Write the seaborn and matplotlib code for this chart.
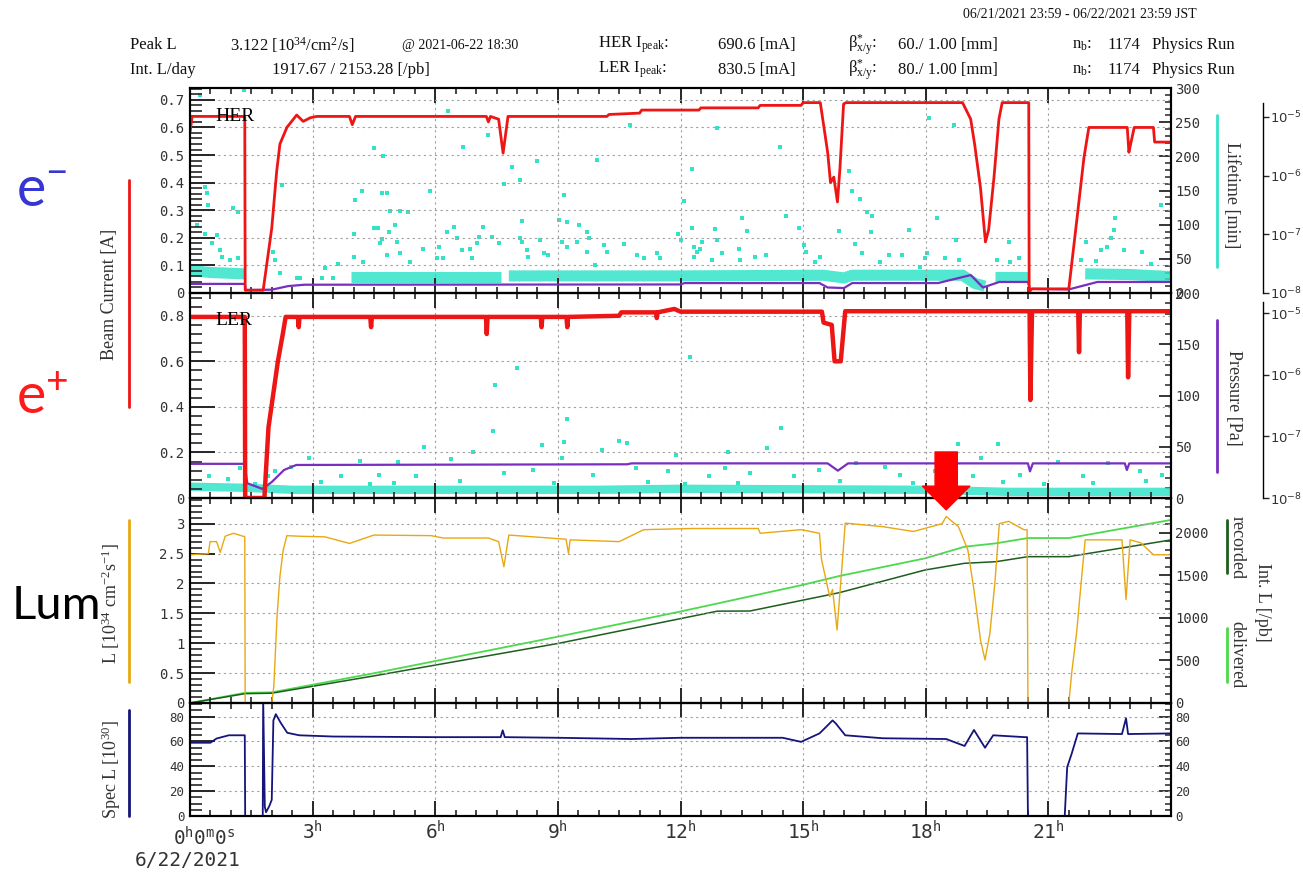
import matplotlib
matplotlib.use("Agg")

import matplotlib.pyplot as plt
from matplotlib.lines import Line2D
from matplotlib.ticker import MultipleLocator, FixedLocator, NullLocator, FuncFormatter
import numpy as np
import pandas as pd
import seaborn as sns

# ---------------------------------------------------------------------------
# data, hours since 6/22/2021 0:00 JST
# ---------------------------------------------------------------------------
HER_T = [0.0, 0.05, 1.34, 1.35, 1.79, 2.0, 2.12, 2.2, 2.37, 2.61, 2.77, 2.94, 3.1, 3.9, 3.97,
         4.05, 7.25, 7.3, 7.35, 7.55, 7.66, 7.78, 10.2, 10.25, 11.0, 11.05, 12.45, 12.5, 13.9,
         13.95, 14.95, 15.0, 15.42, 15.6, 15.67, 15.75, 15.84, 15.9, 15.99, 16.05, 18.9, 19.1,
         19.2, 19.34, 19.46, 19.54, 19.67, 19.79, 19.87, 20.52, 20.53, 20.6, 21.5, 21.7, 21.87,
         21.99, 22.93, 22.97, 23.02, 23.1, 23.57, 23.6, 24.0]
HER_I = [0.58, 0.64, 0.64, 0.01, 0.01, 0.235, 0.44, 0.54, 0.60, 0.645, 0.622, 0.635, 0.64, 0.64, 0.61,
         0.64, 0.64, 0.62, 0.64, 0.63, 0.507, 0.64, 0.64, 0.647, 0.652, 0.663, 0.663, 0.671, 0.671,
         0.68, 0.68, 0.69, 0.69, 0.51, 0.40, 0.42, 0.33, 0.45, 0.685, 0.69, 0.69, 0.63,
         0.535, 0.38, 0.185, 0.23, 0.42, 0.63, 0.69, 0.69, 0.005, 0.015, 0.015, 0.27, 0.49,
         0.60, 0.60, 0.51, 0.545, 0.60, 0.60, 0.547, 0.547]

HER_P_T = [0, 1.34, 1.36, 2.0, 2.4, 2.8, 12.0, 12.1, 15.4, 15.6, 16.0, 16.2, 18.3, 19.1, 19.4,
           19.8, 20.5, 20.55, 21.5, 22.2, 24]
HER_P = [0.033, 0.033, 0.011, 0.012, 0.025, 0.030, 0.031, 0.036, 0.036, 0.020, 0.018, 0.036, 0.036,
         0.065, 0.020, 0.040, 0.040, 0.015, 0.013, 0.040, 0.040]

# dense lifetime band [min], one segment id per point
HER_BAND_T = [0, 0.5, 1.34, 3.95, 7.6, 7.8, 12.0, 15.5, 16.0, 16.2, 18.9, 19.2, 19.45, 19.7, 20.5,
              21.9, 23.0, 24.0]
HER_BAND = [33, 30, 28, 24, 24, 25, 25, 26, 22, 26, 26, 14, 10, 24, 24, 28, 27, 24]
HER_BAND_SEG = [0, 0, 0, 1, 1, 2, 2, 2, 2, 2, 2, 2, 2, 3, 3, 4, 4, 4]

# scattered lifetime readings (hour, min)
HER_LT_PTS = [
    (0.24, 290), (1.31, 297), (0.37, 155), (0.41, 146), (0.45, 129), (1.06, 124), (1.18, 119),
    (0.16, 100), (0.37, 87), (0.65, 85), (0.53, 73), (0.73, 63), (0.78, 53), (0.98, 48), (1.18, 51),
    (2.24, 158), (2.04, 60), (2.08, 48), (2.20, 29), (2.61, 22), (2.69, 22), (3.22, 22), (3.30, 37),
    (3.51, 22), (3.63, 43), (4.00, 87), (4.04, 136), (4.20, 149), (4.00, 53), (4.24, 46), (4.49, 212),
    (4.73, 201), (4.69, 146), (4.81, 146), (4.90, 120), (5.14, 120), (5.34, 118), (4.49, 95),
    (4.61, 95), (4.69, 79), (4.65, 73), (4.86, 90), (5.02, 100), (5.06, 74), (5.14, 58), (4.81, 55),
    (5.39, 46), (5.71, 65), (5.88, 149), (6.08, 68), (6.04, 51), (6.20, 51), (6.28, 90), (6.45, 97),
    (6.53, 80), (6.32, 266), (6.69, 213), (6.65, 63), (6.85, 65), (6.90, 51), (7.02, 73), (7.06, 82),
    (7.18, 97), (7.30, 231), (7.38, 82), (7.55, 73), (7.67, 159), (7.87, 185), (8.08, 165),
    (8.12, 105), (8.08, 80), (8.12, 75), (8.24, 63), (8.28, 53), (8.49, 193), (8.57, 78), (8.65, 58),
    (8.77, 56), (9.02, 107), (9.10, 75), (9.14, 144), (9.22, 104), (9.22, 68), (9.51, 100),
    (9.47, 75), (9.71, 90), (9.75, 80), (9.71, 60), (9.91, 41), (9.96, 194), (10.12, 70),
    (10.20, 60), (10.61, 71), (10.77, 246), (10.93, 56), (11.10, 51), (11.42, 58), (11.51, 51),
    (11.95, 87), (12.00, 78), (12.08, 134), (12.28, 181), (12.89, 241), (12.28, 95), (12.32, 68),
    (12.40, 60), (12.48, 65), (12.53, 75), (12.32, 53), (12.77, 48), (12.85, 94), (12.89, 78),
    (13.02, 58), (13.42, 65), (13.51, 110), (13.63, 91), (13.46, 48), (13.83, 53), (14.08, 56),
    (14.44, 213), (14.57, 113), (14.89, 95), (15.02, 70), (15.06, 60), (15.30, 46), (15.42, 53),
    (15.87, 91), (16.12, 178), (16.20, 149), (16.28, 71), (16.40, 138), (16.44, 58), (16.56, 119),
    (16.69, 112), (16.65, 90), (16.89, 46), (17.10, 56), (17.42, 56), (17.58, 92), (17.87, 38),
    (17.99, 51), (18.07, 256), (18.03, 58), (18.28, 110), (18.48, 51), (18.68, 246), (18.73, 78),
    (18.81, 48), (19.75, 48), (20.03, 75), (20.07, 46), (20.28, 51), (21.79, 48), (21.91, 74),
    (22.16, 47), (22.28, 63), (22.44, 68), (22.52, 80), (22.61, 92), (22.64, 110), (22.85, 63),
    (23.30, 60), (23.50, 43), (23.75, 129), (23.99, 66),
]

LER_T = [0, 1.34, 1.35, 1.82, 1.92, 2.0, 2.15, 2.28, 2.34, 2.64, 2.66, 2.68, 4.41, 4.43, 4.45,
         7.24, 7.26, 7.28, 8.58, 8.6, 8.62, 9.21, 9.23, 9.25, 10.5, 10.55, 11.4, 11.42, 11.44,
         11.85, 12.0, 15.46, 15.5, 15.7, 15.77, 15.92, 16.03, 20.54, 20.56, 20.6, 21.73, 21.75,
         21.77, 22.93, 22.95, 22.98, 24]
LER_I = [0.795, 0.795, 0.0, 0.0, 0.31, 0.41, 0.60, 0.73, 0.795, 0.795, 0.75, 0.795, 0.795, 0.75,
         0.795, 0.795, 0.72, 0.795, 0.795, 0.75, 0.795, 0.795, 0.75, 0.795, 0.80, 0.815, 0.815,
         0.79, 0.815, 0.83, 0.818, 0.818, 0.77, 0.76, 0.60, 0.60, 0.82, 0.82, 0.43, 0.82, 0.82,
         0.64, 0.82, 0.82, 0.53, 0.82, 0.82]

LER_P_T = [0, 1.34, 1.4, 1.77, 2.0, 2.3, 2.6, 10.7, 10.8, 15.6, 15.85, 16.1, 20.5, 20.55, 20.62,
           22.87, 22.92, 22.98, 24]
LER_P = [0.15, 0.15, 0.065, 0.04, 0.07, 0.123, 0.145, 0.148, 0.152, 0.152, 0.12, 0.152, 0.152,
         0.117, 0.152, 0.152, 0.123, 0.152, 0.152]

LER_BAND_T = [0, 1.34, 2.5, 10.0, 12.0, 18.0, 20.0, 24.0]
LER_BAND = [11, 10, 8, 8, 9, 8, 6, 6]

LER_LT_PTS = [
    (12.23, 138), (8.0, 127), (7.46, 110), (7.42, 65), (9.23, 77), (14.46, 68), (5.72, 50),
    (8.62, 52), (9.15, 55), (10.49, 56), (10.69, 54), (10.08, 47), (6.92, 45), (14.12, 49),
    (18.8, 53), (19.77, 53), (19.35, 39), (9.1, 39), (11.88, 42), (13.15, 45), (4.15, 36),
    (5.08, 35), (6.38, 38), (2.92, 39), (10.92, 29), (13.08, 29), (16.3, 34), (17.0, 30),
    (21.23, 35), (22.46, 34), (23.23, 26), (1.23, 29), (2.08, 26), (1.92, 21), (2.46, 30),
    (3.69, 21), (4.62, 22), (5.54, 21), (7.69, 24), (8.38, 27), (9.85, 22), (11.69, 26),
    (12.69, 21), (13.69, 24), (14.77, 21), (15.38, 27), (17.38, 22), (18.23, 26), (19.15, 21),
    (20.31, 22), (21.85, 21), (23.77, 22), (0.92, 19), (0.46, 21), (3.2, 16), (5.0, 15),
    (6.6, 17), (8.9, 15), (11.2, 16), (13.4, 15), (15.9, 17), (17.7, 15), (19.9, 16), (22.1, 15),
    (23.4, 17), (1.6, 14), (4.4, 14), (12.1, 14), (20.9, 14),
]

LUM_T = [0, 0.45, 0.49, 0.65, 0.74, 0.86, 1.06, 1.3, 1.34, 1.35, 2.0, 2.05, 2.13, 2.2, 2.28, 2.37,
         2.69, 3.3, 3.9, 4.5, 5.9, 6.2, 7.3, 7.55, 7.68, 7.8, 9.2, 9.26, 9.3, 10.5, 11.1, 12.3,
         13.9, 13.95, 14.95, 15.4, 15.45, 15.65, 15.72, 15.83, 15.95, 16.03, 16.95, 17.7, 18.4,
         18.5, 18.8, 19.03, 19.18, 19.34, 19.45, 19.57, 19.69, 19.8, 20.03, 20.4, 20.48, 20.5,
         21.5, 21.57, 21.69, 21.8, 21.9, 22.8, 22.9, 23.0, 23.26, 23.57, 24.0]
LUM = [2.48, 2.5, 2.70, 2.70, 2.52, 2.79, 2.84, 2.79, 2.78, 0.0, 0.0, 0.27, 1.45, 2.12, 2.56, 2.8,
       2.79, 2.78, 2.67, 2.81, 2.80, 2.76, 2.76, 2.70, 2.28, 2.81, 2.74, 2.5, 2.73, 2.70, 2.90, 2.92,
       2.92, 2.84, 2.90, 2.84, 2.4, 1.78, 1.9, 1.22, 2.28, 3.01, 2.95, 2.87, 3.0,
       3.12, 2.95, 2.56, 1.89, 1.05, 0.72, 1.17, 2.0, 3.0, 3.04, 2.9, 2.9, 0.0,
       0.0, 0.5, 1.17, 2.0, 2.73, 2.73, 1.73, 2.73, 2.68, 2.48, 2.48]

DELIV_T = [0, 1.35, 2.0, 4.49, 9.0, 11.98, 14.98, 15.88, 17.98, 18.95, 19.72, 20.5, 21.5, 24.0]
DELIV = [0, 120, 125, 349, 780, 1074, 1388, 1493, 1701, 1838, 1878, 1940, 1940, 2153]
RECOR_T = [0, 1.35, 2.0, 4.49, 9.0, 12.9, 13.7, 15.88, 17.98, 18.95, 19.72, 20.5, 21.5, 24.0]
RECOR = [0, 110, 115, 318, 700, 1080, 1082, 1297, 1564, 1643, 1662, 1721, 1721, 1918]

SPEC_T = [0, 0.5, 0.65, 0.95, 1.34, 1.35, 1.78, 1.79, 1.83, 1.86, 1.94, 2.0, 2.04, 2.1, 2.22,
          2.38, 2.67, 3.5, 6.0, 7.6, 7.65, 7.7, 9.0, 10.8, 12.0, 14.5, 14.95, 15.4, 15.57, 15.72,
          15.8, 16.03, 16.95, 18.5, 18.95, 19.18, 19.45, 19.65, 20.42, 20.48, 20.5, 21.4, 21.46,
          21.57, 21.72, 22.8, 22.9, 22.95, 24]
SPEC = [59, 59, 62.4, 65, 65, 0, 0, 95, 7.5, 3, 8, 13, 77, 82, 75,
        67, 65, 64, 63.5, 63.5, 69, 63.5, 63, 62, 63, 63, 59.7, 66.5, 72, 77,
        74.5, 65, 62.6, 62, 56.4, 69.3, 55, 65, 63.5, 63.5, 0, 0, 39.3,
        50.2, 66.5, 66, 78.7, 66, 66.5]

PEAK_T, PEAK_L = 18.5, 3.122
XTICKS = [0, 3, 6, 9, 12, 15, 18, 21, 24]
LOG_TICKS = [1e-8, 1e-7, 1e-6, 1e-5]

RED = "#ee1515"
PURPLE = "#7a2ec0"
CYAN = "#33e3c8"
GOLD = "#e8a812"
LGREEN = "#4cd94c"
DGREEN = "#1d5e1d"
NAVY = "#14147a"
TXT = "#333333"

W, H = 1303, 874
X0, X1 = 190, 1171

sns.set_theme(style="white", rc={
    "axes.edgecolor": "black",
    "axes.linewidth": 1.5,
    "xtick.direction": "in",
    "ytick.direction": "in",
    "mathtext.default": "regular",
})
plt.rcParams["font.family"] = ["DejaVu Sans Mono", "DejaVu Sans"]


def px(x, y):
    return x / W, 1 - y / H


def box(top, bottom):
    return [X0 / W, 1 - bottom / H, (X1 - X0) / W, (bottom - top) / H]


def line(ax, t, v, color, lw):
    sns.lineplot(x=t, y=v, ax=ax, color=color, linewidth=lw, estimator=None, sort=False)


def band(ax, t, v, seg, lw):
    df = pd.DataFrame({"t": t, "v": v, "seg": seg})
    sns.lineplot(data=df, x="t", y="v", units="seg", estimator=None, sort=False, ax=ax,
                 color=CYAN, linewidth=lw, alpha=0.85, solid_capstyle="butt")


def dots(ax, pts, size):
    df = pd.DataFrame(pts, columns=["t", "v"])
    sns.scatterplot(data=df, x="t", y="v", ax=ax, color=CYAN, marker="s", s=size, linewidth=0)


def num(v, _):
    return "0" if abs(v) < 1e-9 else f"{v:g}"


def style_left(ax, top, major, minor, lsize=10):
    ax.set_xlim(0, 24)
    ax.set_ylim(0, top)
    ax.xaxis.set_major_locator(FixedLocator(XTICKS))
    ax.xaxis.set_minor_locator(MultipleLocator(0.5))
    ax.yaxis.set_major_locator(MultipleLocator(major))
    ax.yaxis.set_minor_locator(MultipleLocator(minor))
    ax.yaxis.set_major_formatter(FuncFormatter(num))
    ax.tick_params(axis="x", which="both", top=True, bottom=True, labelbottom=False)
    ax.tick_params(axis="x", which="major", length=11, width=1.4)
    ax.tick_params(axis="x", which="minor", length=4.5, width=1.2)
    ax.tick_params(axis="y", which="both", left=True, right=False)
    ax.tick_params(axis="y", which="major", length=18, width=1.4, pad=4,
                   labelsize=lsize, labelcolor=TXT)
    ax.tick_params(axis="y", which="minor", length=8.5, width=1.2)
    ax.grid(True, which="major", color="#a0a0a0", linestyle=(0, (2, 3)), linewidth=0.8)
    ax.set_xlabel("")
    ax.set_ylabel("")
    ax.patch.set_visible(False)


def style_right(ax, top, major, minor, lsize=10):
    ax.set_ylim(0, top)
    ax.yaxis.set_major_locator(MultipleLocator(major))
    ax.yaxis.set_minor_locator(MultipleLocator(minor))
    ax.yaxis.set_major_formatter(FuncFormatter(num))
    ax.tick_params(axis="y", which="major", length=9, width=1.3, pad=3,
                   labelsize=lsize, labelcolor=TXT)
    ax.tick_params(axis="y", which="minor", length=4.5, width=1.1)
    ax.set_xlabel("")
    ax.set_ylabel("")


def log_scale(y_top, y_e5, y_e8):
    dec = (y_e8 - y_e5) / 3
    ax = fig.add_axes([1262 / W, 1 - y_e8 / H, 0.0005, (y_e8 - y_top) / H])
    ax.set_yscale("log")
    ax.set_ylim(1e-8, 10 ** (-5 + (y_e5 - y_top) / dec))
    for s in ("left", "top", "bottom"):
        ax.spines[s].set_visible(False)
    ax.spines["right"].set_linewidth(1.0)
    ax.patch.set_visible(False)
    ax.set_xticks([])
    ax.yaxis.tick_right()
    ax.yaxis.set_major_locator(FixedLocator(LOG_TICKS))
    ax.yaxis.set_minor_locator(NullLocator())
    ax.yaxis.set_major_formatter(
        FuncFormatter(lambda v, _: f"10$^{{{int(round(np.log10(v)))}}}$"))
    ax.tick_params(axis="y", direction="out", length=4, width=1, pad=1, labelsize=9.5,
                   labelcolor=TXT, labelfontfamily="DejaVu Sans")


def mark(x, y0, y1, color):
    fig.add_artist(Line2D([x / W, x / W], [1 - y0 / H, 1 - y1 / H], color=color, lw=2))


fig = plt.figure(figsize=(W / 100, H / 100), dpi=100)
fig.patch.set_facecolor("white")

ax_her = fig.add_axes(box(88, 293))
ax_ler = fig.add_axes(box(293, 498))
ax_lum = fig.add_axes(box(498, 703))
ax_spec = fig.add_axes(box(703, 816))

# HER panel
her_r = ax_her.twinx()
band(her_r, HER_BAND_T, HER_BAND, HER_BAND_SEG, 8)
dots(her_r, HER_LT_PTS, 10)
line(ax_her, HER_P_T, HER_P, PURPLE, 1.6)
line(ax_her, HER_T, HER_I, RED, 2.0)
style_left(ax_her, 0.743, 0.1, 0.02)
style_right(her_r, 300, 50, 10)

# LER panel
ler_r = ax_ler.twinx()
band(ler_r, LER_BAND_T, LER_BAND, [0] * len(LER_BAND), 6)
dots(ler_r, LER_LT_PTS, 5)
line(ax_ler, LER_P_T, LER_P, PURPLE, 1.6)
line(ax_ler, LER_T, LER_I, RED, 3.2)
style_left(ax_ler, 0.9, 0.2, 0.04)
style_right(ler_r, 200, 50, 10)

# luminosity panel
lum_r = ax_lum.twinx()
line(lum_r, DELIV_T, DELIV, LGREEN, 1.3)
line(lum_r, RECOR_T, RECOR, DGREEN, 1.1)
line(ax_lum, LUM_T, LUM, GOLD, 1.0)
style_left(ax_lum, 3.43, 0.5, 0.1)
style_right(lum_r, 2411, 500, 100)

# specific luminosity panel
spec_r = ax_spec.twinx()
line(ax_spec, SPEC_T, SPEC, NAVY, 1.3)
style_left(ax_spec, 91, 20, 5, lsize=9)
style_right(spec_r, 91, 20, 5, lsize=9)
ax_spec.tick_params(axis="x", labelbottom=True, labelsize=14, pad=3, labelcolor=TXT)
ax_spec.set_xticklabels(["" if h in (0, 24) else f"{h}$^h$" for h in XTICKS])

for a, r in ((ax_her, her_r), (ax_ler, ler_r), (ax_lum, lum_r), (ax_spec, spec_r)):
    a.set_zorder(r.get_zorder() + 1)

fig.text(*px(204, 838), "0$^h$0$^m$0$^s$", ha="center", va="center", fontsize=14, color=TXT)
fig.text(*px(188, 860), "6/22/2021", ha="center", va="center", fontsize=14, color=TXT)

# peak marker
ax_lum.annotate("", xy=(PEAK_T, PEAK_L + 0.11), xytext=(PEAK_T, 4.2), annotation_clip=False,
                arrowprops=dict(arrowstyle="simple,head_length=1.7,head_width=3.4,tail_width=1.6",
                                mutation_scale=10, color="#ff0000", shrinkA=0, shrinkB=0))

# ring labels inside panels
serif = dict(family="Liberation Serif", color="black")
ax_her.text(0.026, 0.86, "HER", transform=ax_her.transAxes, fontsize=14, va="center", **serif)
ax_ler.text(0.026, 0.865, "LER", transform=ax_ler.transAxes, fontsize=14, va="center", **serif)

# log scales for lifetime / pressure
log_scale(103, 117, 293)
log_scale(302, 313, 498)

# axis titles
lab = dict(family="Liberation Serif", fontsize=13, color=TXT, ha="center", va="center")
fig.text(*px(109, 294), "Beam Current [A]", rotation=90, **lab)
mark(129, 180, 407, RED)
fig.text(*px(111, 604), "L [10$^{34}$ cm$^{-2}$s$^{-1}$]", rotation=90, **lab)
mark(129, 520, 682, GOLD)
fig.text(*px(111, 770), "Spec L [10$^{30}$]", rotation=90, **lab)
mark(129, 710, 816, NAVY)
fig.text(*px(1231, 195), "Lifetime [min]", rotation=270, **lab)
mark(1217, 115, 267, CYAN)
fig.text(*px(1233, 398), "Pressure [Pa]", rotation=270, **lab)
mark(1217, 320, 472, PURPLE)
fig.text(*px(1237, 548), "recorded", rotation=270, **lab)
mark(1227, 520, 573, DGREEN)
fig.text(*px(1237, 655), "delivered", rotation=270, **lab)
mark(1227, 628, 682, LGREEN)
fig.text(*px(1262, 602), "Int. L [/pb]", rotation=270, **lab)

# big side labels
big = dict(family=["Lato", "DejaVu Sans"], fontsize=40, va="center", ha="left")
fig.text(*px(16, 190), "e$^{-}$", color="#3636d2", **big)
fig.text(*px(16, 398), "e$^{+}$", color="#ff1a1a", **big)
fig.text(*px(12, 606), "Lum", color="black", **dict(big, fontsize=34))

# header
hdr = dict(family="Liberation Serif", fontsize=12, va="center", color="#111111")
small = dict(hdr, fontsize=10)
fig.text(*px(963, 14), "06/21/2021 23:59 - 06/22/2021 23:59 JST", **small)
rows = [
    (45, "Peak L", "3.122 [10$^{34}$/cm$^2$/s]", 230, "HER", "690.6 [mA]", "60./ 1.00 [mm]"),
    (70, "Int. L/day", "1917.67 / 2153.28 [/pb]", 272, "LER", "830.5 [mA]", "80./ 1.00 [mm]"),
]
for y, name, val, xv, ring, ipk, beta in rows:
    fig.text(*px(130, y), name, **hdr)
    fig.text(*px(xv, y), val, **hdr)
    fig.text(*px(598, y), ring + " I$_{peak}$:", **hdr)
    fig.text(*px(718, y), ipk, **hdr)
    fig.text(*px(848, y), "β$_{x/y}^{*}$:", **hdr)
    fig.text(*px(898, y), beta, **hdr)
    fig.text(*px(1072, y), "n$_b$:", **hdr)
    fig.text(*px(1107, y), "1174", **hdr)
    fig.text(*px(1152, y), "Physics Run", **hdr)
fig.text(*px(402, 45), "@ 2021-06-22 18:30", **small)

fig.savefig("out.png", dpi=100, facecolor="white")
